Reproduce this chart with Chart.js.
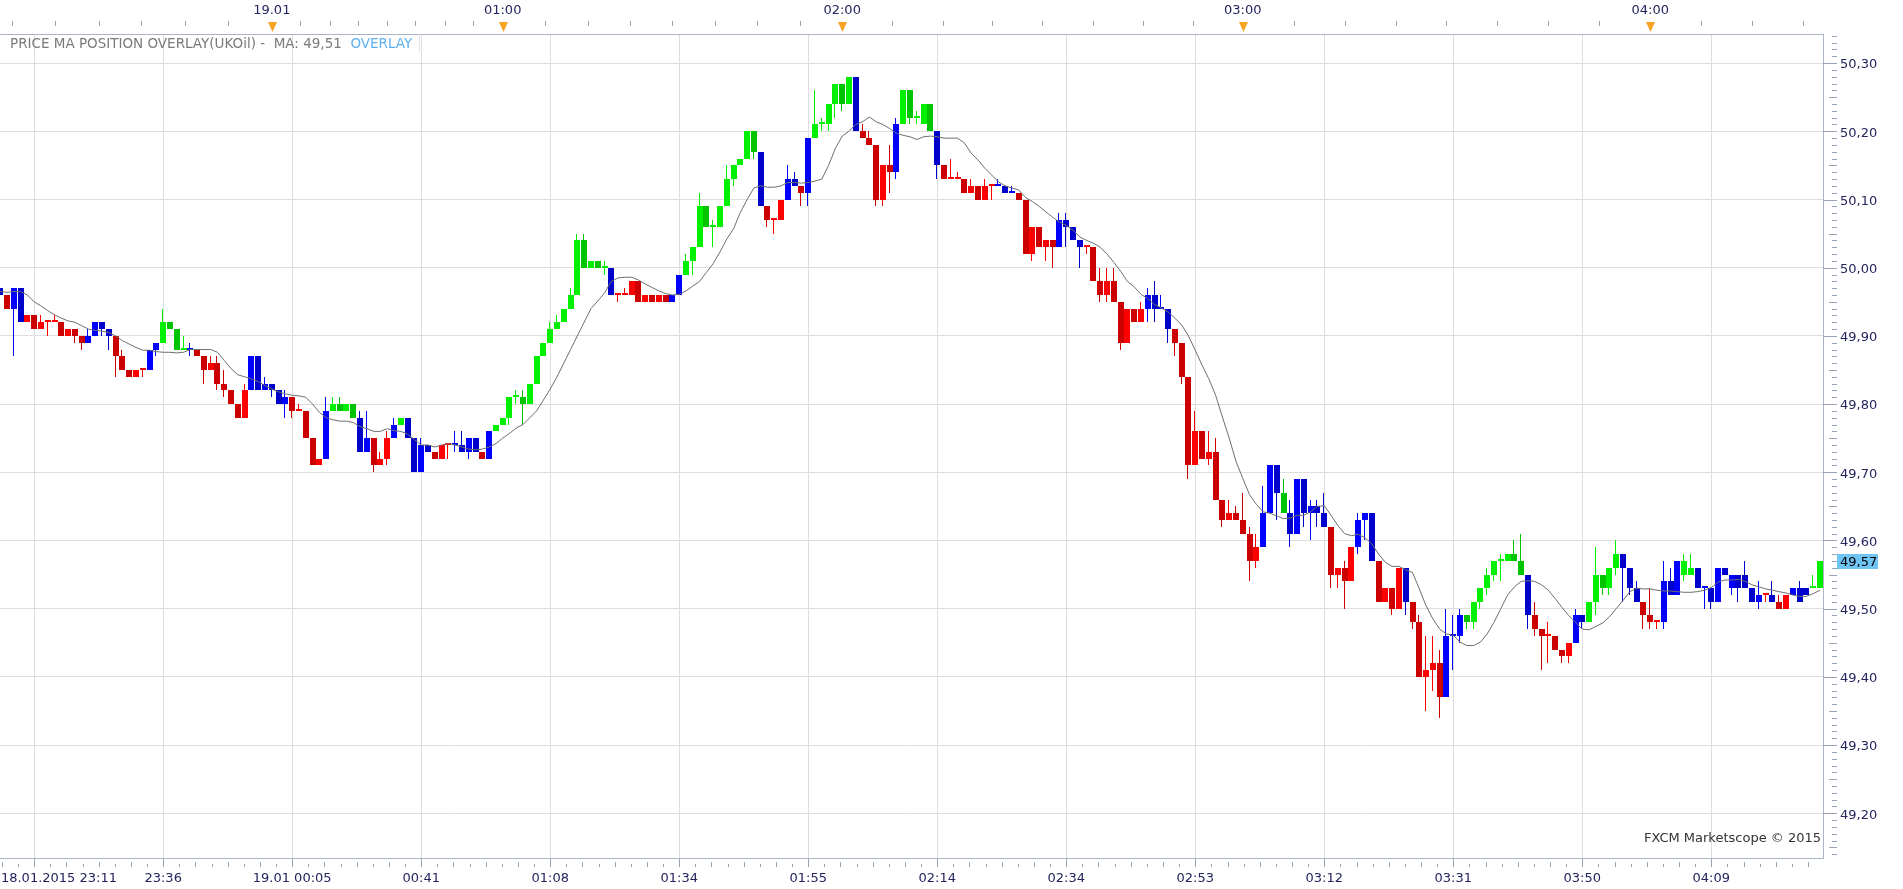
<!DOCTYPE html>
<html>
<head>
<meta charset="UTF-8">
<title>UKOil - Price MA Position Overlay</title>
<script src="https://cdn.jsdelivr.net/npm/chart.js@4.4.1/dist/chart.umd.min.js"></script>
<style>
  html, body { margin: 0; padding: 0; background: #fff; }
  #wrap { position: relative; width: 1903px; height: 889px; }
</style>
</head>
<body>
<div id="wrap"><canvas id="chart"></canvas></div>
<script>
// 1-minute bars, UKOil, 18.01.2015 23:06 .. 19.01.2015 04:2x (bar index = x)
var open = [
  49.97,49.96,49.94,49.97,49.92,49.93,49.91,49.92,49.92,49.92,
  49.90,49.91,49.90,49.89,49.90,49.92,49.91,49.90,49.87,49.85,
  49.84,49.85,49.85,49.88,49.89,49.92,49.91,49.88,49.88,49.88,
  49.87,49.85,49.86,49.83,49.82,49.80,49.78,49.82,49.87,49.82,
  49.83,49.82,49.80,49.81,49.79,49.79,49.75,49.71,49.72,49.79,
  49.80,49.79,49.80,49.78,49.73,49.75,49.71,49.72,49.75,49.77,
  49.78,49.75,49.70,49.74,49.73,49.72,49.74,49.74,49.74,49.73,
  49.75,49.73,49.72,49.76,49.77,49.78,49.81,49.81,49.80,49.83,
  49.87,49.89,49.91,49.92,49.94,49.96,50.04,50.00,50.01,50.00,
  50.00,49.96,49.96,49.96,49.98,49.95,49.96,49.95,49.96,49.95,
  49.96,49.99,50.01,50.03,50.09,50.06,50.06,50.09,50.13,50.15,
  50.16,50.20,50.17,50.09,50.07,50.07,50.10,50.13,50.12,50.11,
  50.19,50.21,50.21,50.24,50.27,50.24,50.28,50.20,50.19,50.18,
  50.10,50.15,50.14,50.21,50.26,50.22,50.21,50.24,50.20,50.15,
  50.13,50.13,50.13,50.11,50.12,50.10,50.12,50.12,50.12,50.11,
  50.11,50.10,50.02,50.06,50.03,50.04,50.03,50.07,50.06,50.04,
  50.03,50.03,49.98,49.96,49.98,49.95,49.89,49.94,49.92,49.94,
  49.96,49.94,49.94,49.91,49.89,49.84,49.71,49.76,49.72,49.73,
  49.66,49.63,49.64,49.63,49.61,49.57,49.59,49.64,49.71,49.67,
  49.64,49.61,49.69,49.64,49.65,49.64,49.62,49.55,49.56,49.54,
  49.59,49.63,49.64,49.57,49.51,49.53,49.50,49.56,49.51,49.48,
  49.40,49.41,49.42,49.37,49.46,49.46,49.49,49.48,49.51,49.53,
  49.55,49.57,49.57,49.58,49.57,49.55,49.49,49.47,49.46,49.46,
  49.44,49.43,49.45,49.49,49.48,49.51,49.55,49.53,49.56,49.58,
  49.56,49.53,49.51,49.49,49.48,49.48,49.54,49.52,49.55,49.55,
  49.56,49.53,49.53,49.51,49.56,49.53,49.55,49.55,49.53,49.51,
  49.52,49.52,49.51,49.50,49.52,49.53,49.53,49.53,49.53
];
var close = [
  49.96,49.94,49.97,49.92,49.93,49.91,49.92,49.92,49.92,49.90,
  49.91,49.90,49.89,49.90,49.92,49.91,49.90,49.87,49.85,49.84,
  49.85,49.85,49.88,49.89,49.92,49.91,49.88,49.88,49.88,49.87,
  49.85,49.86,49.83,49.82,49.80,49.78,49.82,49.87,49.82,49.83,
  49.82,49.80,49.81,49.79,49.79,49.75,49.71,49.72,49.79,49.80,
  49.79,49.80,49.78,49.73,49.75,49.71,49.72,49.75,49.77,49.78,
  49.75,49.70,49.74,49.73,49.72,49.74,49.74,49.74,49.73,49.75,
  49.73,49.72,49.76,49.77,49.78,49.81,49.81,49.80,49.83,49.87,
  49.89,49.91,49.92,49.94,49.96,50.04,50.00,50.01,50.00,50.00,
  49.96,49.96,49.96,49.98,49.95,49.96,49.95,49.96,49.95,49.96,
  49.99,50.01,50.03,50.09,50.06,50.06,50.09,50.13,50.15,50.16,
  50.20,50.17,50.09,50.07,50.07,50.10,50.13,50.12,50.11,50.19,
  50.21,50.21,50.24,50.27,50.24,50.28,50.20,50.19,50.18,50.10,
  50.15,50.14,50.21,50.26,50.22,50.22,50.24,50.20,50.15,50.13,
  50.13,50.13,50.11,50.12,50.10,50.12,50.12,50.12,50.11,50.11,
  50.10,50.02,50.06,50.03,50.04,50.03,50.07,50.06,50.04,50.03,
  50.03,49.98,49.96,49.98,49.95,49.89,49.94,49.92,49.94,49.96,
  49.94,49.94,49.91,49.89,49.84,49.71,49.76,49.72,49.73,49.66,
  49.63,49.64,49.63,49.61,49.57,49.59,49.64,49.71,49.67,49.64,
  49.61,49.69,49.64,49.65,49.64,49.62,49.55,49.56,49.54,49.59,
  49.63,49.64,49.57,49.51,49.53,49.50,49.56,49.51,49.48,49.40,
  49.41,49.42,49.37,49.46,49.46,49.49,49.48,49.51,49.53,49.55,
  49.57,49.57,49.58,49.57,49.55,49.49,49.47,49.46,49.46,49.44,
  49.43,49.45,49.49,49.48,49.51,49.55,49.53,49.56,49.58,49.56,
  49.53,49.51,49.49,49.48,49.48,49.54,49.52,49.57,49.57,49.56,
  49.53,49.53,49.51,49.56,49.55,49.55,49.53,49.53,49.51,49.52,
  49.52,49.51,49.50,49.52,49.53,49.51,49.52,49.53,49.57
];
var high = [
  49.97,49.96,49.97,49.97,49.93,49.93,49.93,49.92,49.93,49.92,
  49.91,49.91,49.90,49.91,49.92,49.92,49.91,49.90,49.88,49.85,
  49.85,49.85,49.88,49.89,49.94,49.92,49.91,49.90,49.89,49.88,
  49.87,49.87,49.87,49.85,49.82,49.80,49.83,49.87,49.87,49.84,
  49.83,49.82,49.82,49.81,49.80,49.79,49.75,49.72,49.81,49.81,
  49.81,49.80,49.80,49.79,49.79,49.75,49.73,49.76,49.78,49.78,
  49.78,49.75,49.75,49.74,49.73,49.74,49.74,49.76,49.76,49.75,
  49.75,49.73,49.76,49.77,49.78,49.81,49.82,49.82,49.83,49.87,
  49.89,49.92,49.93,49.94,49.97,50.05,50.05,50.01,50.01,50.01,
  50.00,49.96,49.97,49.98,49.98,49.96,49.96,49.96,49.96,49.96,
  49.99,50.02,50.03,50.11,50.09,50.07,50.09,50.15,50.15,50.16,
  50.20,50.20,50.17,50.09,50.07,50.10,50.15,50.14,50.12,50.19,
  50.26,50.22,50.24,50.27,50.27,50.28,50.28,50.21,50.20,50.18,
  50.15,50.18,50.22,50.26,50.26,50.23,50.24,50.24,50.20,50.15,
  50.16,50.14,50.13,50.13,50.12,50.13,50.12,50.13,50.12,50.12,
  50.11,50.10,50.06,50.06,50.04,50.04,50.08,50.08,50.06,50.04,
  50.03,50.03,50.00,50.00,50.00,49.95,49.94,49.94,49.95,49.97,
  49.98,49.96,49.94,49.91,49.89,49.84,49.79,49.76,49.76,49.75,
  49.66,49.66,49.65,49.67,49.62,49.61,49.68,49.71,49.71,49.69,
  49.66,49.69,49.69,49.66,49.66,49.67,49.62,49.56,49.57,49.59,
  49.64,49.64,49.64,49.57,49.53,49.53,49.56,49.56,49.51,49.49,
  49.46,49.46,49.44,49.50,49.49,49.50,49.49,49.51,49.53,49.56,
  49.57,49.58,49.58,49.60,49.61,49.55,49.51,49.47,49.48,49.46,
  49.44,49.45,49.50,49.49,49.51,49.59,49.55,49.56,49.60,49.58,
  49.56,49.54,49.51,49.53,49.48,49.57,49.56,49.57,49.58,49.58,
  49.56,49.53,49.53,49.56,49.56,49.55,49.55,49.57,49.53,49.54,
  49.52,49.54,49.52,49.52,49.53,49.54,49.53,49.55,49.57
];
var low = [
  49.96,49.94,49.87,49.92,49.92,49.91,49.91,49.90,49.92,49.90,
  49.90,49.89,49.88,49.89,49.90,49.90,49.88,49.84,49.85,49.84,
  49.84,49.84,49.85,49.87,49.89,49.91,49.88,49.88,49.87,49.87,
  49.83,49.85,49.82,49.81,49.80,49.78,49.78,49.82,49.82,49.82,
  49.81,49.80,49.78,49.78,49.79,49.75,49.71,49.71,49.72,49.79,
  49.79,49.79,49.78,49.73,49.73,49.70,49.71,49.71,49.75,49.77,
  49.75,49.70,49.70,49.73,49.72,49.72,49.72,49.73,49.73,49.72,
  49.73,49.72,49.72,49.76,49.77,49.77,49.80,49.77,49.80,49.83,
  49.87,49.89,49.91,49.92,49.94,49.96,50.00,50.00,50.00,49.99,
  49.96,49.95,49.96,49.96,49.95,49.95,49.95,49.95,49.95,49.95,
  49.96,49.99,49.99,50.03,50.06,50.03,50.06,50.09,50.12,50.15,
  50.16,50.16,50.09,50.06,50.05,50.07,50.10,50.12,50.09,50.09,
  50.19,50.20,50.20,50.22,50.23,50.24,50.20,50.19,50.18,50.09,
  50.09,50.11,50.13,50.21,50.21,50.21,50.21,50.20,50.13,50.13,
  50.13,50.13,50.11,50.11,50.10,50.10,50.10,50.12,50.11,50.11,
  50.10,50.02,50.01,50.03,50.01,50.00,50.03,50.03,50.04,50.00,
  50.02,49.98,49.95,49.95,49.95,49.88,49.89,49.92,49.92,49.92,
  49.92,49.94,49.89,49.87,49.83,49.69,49.71,49.72,49.71,49.66,
  49.62,49.63,49.63,49.61,49.54,49.56,49.59,49.64,49.63,49.64,
  49.59,49.61,49.62,49.60,49.62,49.62,49.53,49.53,49.50,49.54,
  49.58,49.60,49.57,49.51,49.51,49.49,49.50,49.49,49.47,49.40,
  49.35,49.38,49.34,49.37,49.41,49.45,49.47,49.47,49.50,49.52,
  49.54,49.54,49.57,49.57,49.55,49.47,49.46,49.41,49.42,49.44,
  49.42,49.42,49.45,49.47,49.48,49.49,49.52,49.52,49.55,49.51,
  49.52,49.51,49.47,49.47,49.47,49.47,49.52,49.52,49.54,49.55,
  49.53,49.50,49.50,49.51,49.55,49.52,49.51,49.53,49.51,49.50,
  49.51,49.51,49.50,49.50,49.52,49.51,49.52,49.53,49.53
];
// moving average line as drawn on the chart
var ma = [
  49.965,49.964,49.965,49.965,49.960,49.950,49.944,49.937,49.931,49.926,
  49.922,49.920,49.915,49.910,49.908,49.907,49.905,49.900,49.893,49.888,
  49.883,49.879,49.879,49.877,49.876,49.876,49.875,49.876,49.880,49.880,
  49.880,49.880,49.876,49.864,49.852,49.843,49.840,49.837,49.833,49.827,
  49.822,49.818,49.815,49.813,49.812,49.810,49.800,49.788,49.780,49.777,
  49.775,49.775,49.773,49.767,49.764,49.760,49.760,49.764,49.761,49.760,
  49.756,49.748,49.740,49.740,49.737,49.740,49.742,49.740,49.737,49.734,
  49.733,49.734,49.737,49.742,49.750,49.757,49.765,49.770,49.780,49.790,
  49.806,49.822,49.840,49.860,49.880,49.900,49.920,49.940,49.951,49.963,
  49.980,49.985,49.986,49.986,49.982,49.976,49.971,49.966,49.962,49.960,
  49.961,49.966,49.973,49.980,49.993,50.006,50.023,50.042,50.057,50.081,
  50.100,50.117,50.120,50.118,50.118,50.120,50.125,50.125,50.124,50.125,
  50.127,50.130,50.150,50.175,50.193,50.200,50.210,50.214,50.221,50.214,
  50.210,50.204,50.197,50.194,50.192,50.188,50.192,50.193,50.192,50.190,
  50.190,50.190,50.183,50.168,50.158,50.146,50.136,50.126,50.120,50.117,
  50.114,50.103,50.097,50.090,50.082,50.074,50.067,50.062,50.055,50.045,
  50.040,50.036,50.030,50.020,50.008,49.995,49.980,49.972,49.961,49.955,
  49.946,49.941,49.935,49.926,49.916,49.900,49.879,49.857,49.837,49.813,
  49.781,49.750,49.716,49.691,49.667,49.653,49.642,49.640,49.636,49.632,
  49.633,49.637,49.637,49.642,49.650,49.651,49.637,49.622,49.610,49.607,
  49.609,49.604,49.595,49.580,49.568,49.562,49.562,49.557,49.553,49.529,
  49.504,49.485,49.470,49.463,49.461,49.451,49.446,49.446,49.451,49.463,
  49.480,49.500,49.520,49.532,49.540,49.541,49.540,49.535,49.527,49.515,
  49.502,49.490,49.480,49.470,49.469,49.474,49.479,49.488,49.500,49.512,
  49.525,49.530,49.529,49.529,49.527,49.526,49.526,49.525,49.524,49.524,
  49.525,49.527,49.531,49.539,49.542,49.542,49.543,49.540,49.535,49.532,
  49.529,49.527,49.525,49.523,49.520,49.518,49.518,49.522,49.527
];
// price vs MA position: g above, r below, b crossing
var zone = (
  'brbbrrrrrr' + 'rrrbbbbrrr' + 'rrbbggggbr' + 'rrrrrrrbbb' + 'bbbrrrrrbg' +
  'gggbbrrrbg' + 'bbbbrrrbbb' + 'brbggggggg' + 'gggggggggg' + 'brrrrrrrrb' +
  'bggggggggg' + 'ggbrrrbbrb' + 'ggggggbrrr' + 'rrbgggggbr' + 'rrrrrrrbbb' +
  'rrrrrrbbbb' + 'rrrrrrrrrb' + 'bbbrrrrrrr' + 'rrrrrrbbbg' + 'bbbbbbrrrr' +
  'bbbrrrrbrr' + 'rrrbbbgggg' + 'gggggbrrrr' + 'rrbbgggggb' + 'bbrrrbbbgg' +
  'bbbbbbbbbb' + 'rbrrbbbgg'
).split('');

// bottom axis: a label every 19 bars
var gridIdx = [5, 24, 43, 62, 81, 100, 119, 138, 157, 176, 195, 214, 233, 252];
var gridLabels = ['18.01.2015 23:11', '23:36', '19.01 00:05', '00:41', '01:08', '01:34', '01:55',
                  '02:14', '02:34', '02:53', '03:12', '03:31', '03:50', '04:09'];
// top axis: hour markers and the small time ticks between them (bar units)
var hourPos = [40, 74, 124, 183, 243];
var hourLabels = ['19.01', '01:00', '02:00', '03:00', '04:00'];
var topTicks = [1.7, 8.0, 14.5, 20.8, 27.2, 33.5,
                44.2, 48.5, 52.7, 56.9, 61.1, 65.5, 69.7,
                80.3, 86.5, 92.8, 99.0, 105.3, 111.5, 117.8,
                131.4, 138.8, 146.1, 153.5, 160.9, 168.3, 175.6,
                190.5, 198.0, 205.5, 213.0, 220.5, 228.0, 235.5,
                250.5, 258.0, 265.5];
var priceTicks = [49.2, 49.3, 49.4, 49.5, 49.6, 49.7, 49.8, 49.9, 50.0, 50.1, 50.2, 50.3];

(function () {
    'use strict';

    var FONT = '"DejaVu Sans", Verdana, sans-serif';
    var TXT = '#24245e';
    var AXIS = '#9aa4b8';
    var X_MIN = -0.03, X_MAX = 268.45;
    var Y_MIN = 49.1344, Y_MAX = 50.3427;
    var PLOT_W = 1823;

    var palette = {
        g: ['#00f000', '#00c400'],
        r: ['#ff0000', '#cc0000'],
        b: ['#0000ff', '#0000cc']
    };

    var n = close.length;
    var bodies = [], wicks = [], maLine = [], cols = [];
    for (var i = 0; i < n; i++) {
        bodies.push({ x: i, y: [open[i], close[i]] });
        wicks.push({ x: i, y: [low[i], high[i]] });
        maLine.push({ x: i, y: ma[i] });
        cols.push(palette[zone[i]][close[i] >= open[i] ? 0 : 1]);
    }

    // first bottom label is pushed right so it starts at the canvas edge
    function firstLabel(text) {
        var c = document.createElement('canvas').getContext('2d');
        c.font = '13px ' + FONT;
        var w = c.measureText(text).width;
        var sp = c.measureText('\u00a0').width;
        var gx = (gridIdx[0] - X_MIN) / (X_MAX - X_MIN) * PLOT_W;
        var need = Math.max(0, w - 2 * gx);
        return new Array(Math.round(need / sp) + 1).join('\u00a0') + text;
    }

    // keep candle edges on whole pixels so they stay crisp
    var snap = {
        id: 'snap',
        beforeDatasetsDraw: function (chart) {
            chart.getDatasetMeta(1).data.forEach(function (el) {
                el.x = Math.round(el.x);
                el.y = Math.round(el.y);
                el.base = Math.round(el.base);
            });
            chart.getDatasetMeta(2).data.forEach(function (el) {
                el.x = Math.round(el.x) - 0.5;
                el.y = Math.round(el.y);
                el.base = Math.round(el.base);
            });
        }
    };

    var overlay = {
        id: 'overlay',
        afterDraw: function (chart) {
            var ctx = chart.ctx;
            var ca = chart.chartArea;
            var xb = chart.scales.x;
            var xt = chart.scales.xTop;
            var y = chart.scales.y;
            var k, px;
            ctx.save();
            ctx.lineWidth = 1;
            ctx.strokeStyle = AXIS;

            // top axis small ticks
            ctx.beginPath();
            topTicks.forEach(function (v) {
                px = Math.round(xt.getPixelForValue(v)) + 0.5;
                ctx.moveTo(px, 21);
                ctx.lineTo(px, 26);
            });
            ctx.stroke();

            // bottom axis minor ticks (8 per labelled interval)
            ctx.beginPath();
            for (k = 0; k < gridIdx.length; k++) {
                var a = gridIdx[k];
                var step = 19 / 8;
                for (var m = -8; m < 8; m++) {
                    if (m === 0) continue;
                    var v = a + m * step;
                    if (v < X_MIN || v > X_MAX || (k > 0 && m < 0)) continue;
                    px = Math.round(xb.getPixelForValue(v)) + 0.5;
                    ctx.moveTo(px, ca.bottom + (m % 2 === 0 ? 4 : 6));
                    ctx.lineTo(px, ca.bottom + 9);
                }
            }
            ctx.stroke();

            // price ticks every 0.01
            ctx.beginPath();
            for (var p = 4914; p <= 5034; p++) {
                var py = Math.round(y.getPixelForValue(p / 100)) + 0.5;
                var st = (p % 10 === 0) ? 0 : (p % 5 === 0 ? 6 : 9);
                ctx.moveTo(ca.right + st, py);
                ctx.lineTo(ca.right + 14, py);
            }
            ctx.stroke();

            // hour markers on the top axis
            ctx.fillStyle = '#f6a323';
            hourPos.forEach(function (v) {
                var hx = Math.round(xt.getPixelForValue(v)) + 0.5;
                ctx.beginPath();
                ctx.moveTo(hx - 4.5, 22);
                ctx.lineTo(hx + 4.5, 22);
                ctx.lineTo(hx, 32);
                ctx.closePath();
                ctx.fill();
            });

            // indicator title
            ctx.font = '13.5px ' + FONT;
            ctx.textBaseline = 'middle';
            ctx.textAlign = 'left';
            var t1 = 'PRICE MA POSITION OVERLAY(UKOil) -  MA: 49,51  ';
            ctx.fillStyle = '#7a7a7a';
            ctx.fillText(t1, 10, 44);
            ctx.fillStyle = '#5fb0ee';
            ctx.fillText('OVERLAY', 10 + ctx.measureText(t1).width, 44);
            ctx.strokeStyle = '#e2e2e2';
            ctx.beginPath();
            ctx.moveTo(419.5, ca.top);
            ctx.lineTo(419.5, ca.top + 18);
            ctx.stroke();

            // last price tag
            ctx.font = '13px ' + FONT;
            var last = close[n - 1];
            var ly = y.getPixelForValue(last);
            ctx.fillStyle = '#6ec4f3';
            ctx.fillRect(ca.right + 14, Math.round(ly) - 7, 41, 15);
            ctx.fillStyle = '#000';
            ctx.fillText(last.toFixed(2).replace('.', ','), ca.right + 17, ly + 1.5);

            // watermark
            ctx.fillStyle = '#333';
            ctx.textAlign = 'right';
            ctx.fillText('FXCM Marketscope \u00a9 2015', ca.right - 2, 839);
            ctx.restore();
        }
    };

    new Chart(document.getElementById('chart'), {
        type: 'bar',
        data: {
            datasets: [
                {
                    type: 'line', data: maLine, order: 0,
                    borderColor: '#6e6e6e', borderWidth: 1, pointRadius: 0, tension: 0, fill: false
                },
                {
                    data: bodies, order: 1, grouped: false, inflateAmount: 0,
                    backgroundColor: cols, borderWidth: 0, barThickness: 6, minBarLength: 2
                },
                {
                    data: wicks, order: 2, grouped: false, inflateAmount: 0,
                    backgroundColor: cols, borderWidth: 0, barThickness: 1
                }
            ]
        },
        options: {
            responsive: true,
            maintainAspectRatio: false,
            animation: false,
            devicePixelRatio: 1,
            layout: { padding: 0 },
            plugins: { legend: { display: false }, tooltip: { enabled: false } },
            scales: {
                x: {
                    type: 'linear', position: 'bottom', min: X_MIN, max: X_MAX, offset: false,
                    afterBuildTicks: function (s) { s.ticks = gridIdx.map(function (v) { return { value: v }; }); },
                    afterFit: function (s) { s.height = 31; s.paddingLeft = 0; s.paddingRight = 0; },
                    grid: { color: '#dedede', tickColor: AXIS, tickLength: 9, offset: false },
                    border: { color: '#aab4c6' },
                    ticks: {
                        autoSkip: false, maxRotation: 0, padding: 4, color: TXT,
                        font: { family: FONT, size: 13 },
                        callback: function (v, k) { return k === 0 ? firstLabel(gridLabels[0]) : gridLabels[k]; }
                    }
                },
                xTop: {
                    type: 'linear', position: 'top', min: X_MIN, max: X_MAX, offset: false,
                    afterBuildTicks: function (s) { s.ticks = hourPos.map(function (v) { return { value: v }; }); },
                    afterFit: function (s) { s.height = 34; s.paddingLeft = 0; s.paddingRight = 0; },
                    grid: { drawOnChartArea: false, drawTicks: false, offset: false },
                    border: { color: '#aab4c6' },
                    ticks: {
                        autoSkip: false, maxRotation: 0, padding: 16, color: TXT,
                        font: { family: FONT, size: 13 },
                        callback: function (v, k) { return hourLabels[k]; }
                    }
                },
                y: {
                    type: 'linear', position: 'right', min: Y_MIN, max: Y_MAX,
                    afterBuildTicks: function (s) { s.ticks = priceTicks.map(function (v) { return { value: v }; }); },
                    afterFit: function (s) { s.width = 80; },
                    grid: { color: '#dedede', drawTicks: false },
                    border: { color: '#aab4c6' },
                    ticks: {
                        padding: 17, labelOffset: 2, color: TXT,
                        font: { family: FONT, size: 13 },
                        callback: function (v) { return v.toFixed(2).replace('.', ','); }
                    }
                }
            }
        },
        plugins: [snap, overlay]
    });
})();
</script>
</body>
</html>
